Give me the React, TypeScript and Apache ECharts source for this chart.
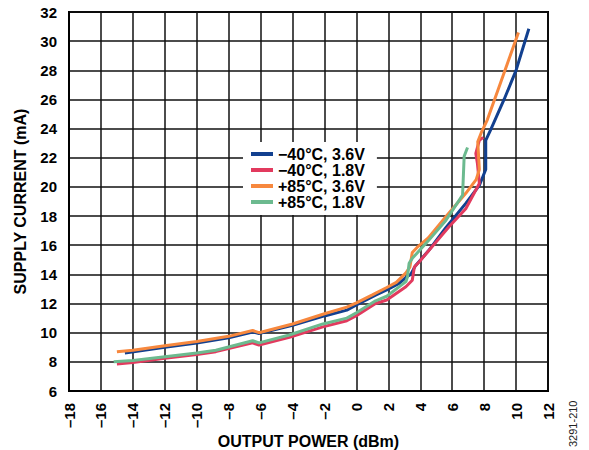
import React, { useEffect, useRef } from "react";
import * as echarts from "echarts";

const seriesNames = ["\u221240°C, 3.6V", "\u221240°C, 1.8V", "+85°C, 3.6V", "+85°C, 1.8V"];
const seriesColors = ["#12408f", "#e23a5e", "#f7883e", "#6cba8f"];

const blue40_36: [number, number][] = [
  [-14.5, 8.6], [-12, 9.0], [-10, 9.3], [-8, 9.65], [-6.5, 10.05], [-6.1, 9.95], [-4, 10.5],
  [-2, 11.15], [-0.6, 11.55], [0, 11.9], [1.2, 12.58], [1.9, 12.93], [2.7, 13.4], [3.1, 13.8],
  [3.4, 14.0], [3.7, 14.6], [4.5, 15.6], [5.6, 17.2], [6.85, 18.87], [7.7, 20.1], [8.1, 21.2],
  [8.1, 23.2], [8.4, 23.9], [9.25, 26.0], [10.0, 28.0], [10.8, 30.85],
];
const red40_18: [number, number][] = [
  [-15, 7.85], [-14, 7.95], [-12, 8.24], [-10, 8.5], [-8.8, 8.7], [-6.5, 9.3], [-6.1, 9.15],
  [-4.2, 9.68], [-2.1, 10.4], [-0.6, 10.82], [0, 11.16], [1.2, 12.0], [1.9, 12.24], [3.1, 13.15],
  [3.5, 13.6], [3.63, 14.5], [3.94, 14.87], [5.8, 17.27], [6.85, 18.5], [7.7, 20.24], [7.58, 21.6],
  [7.48, 22.3], [7.7, 23.2], [7.94, 23.4],
];
const orange85_36: [number, number][] = [
  [-15, 8.7], [-14, 8.8], [-12, 9.1], [-10, 9.4], [-8, 9.75], [-6.5, 10.15], [-6.1, 10.0],
  [-4, 10.6], [-2, 11.3], [-0.6, 11.75], [0, 12.05], [1, 12.6], [1.9, 13.1], [2.5, 13.45],
  [3.1, 14.1], [3.35, 14.5], [3.5, 15.5], [3.8, 15.85], [4.5, 16.5], [5.6, 17.96], [6.85, 19.56],
  [7.5, 20.5], [7.7, 21.2], [7.6, 23.1], [7.85, 23.8], [8.2, 24.6], [8.94, 26.87], [10.15, 30.6],
];
const green85_18: [number, number][] = [
  [-15.2, 8.0], [-14, 8.1], [-12, 8.35], [-10, 8.6], [-8.8, 8.8], [-6.5, 9.45], [-6.1, 9.3],
  [-4.2, 9.84], [-2.1, 10.6], [-0.6, 11.0], [0, 11.37], [1.2, 12.19], [1.9, 12.5], [3.1, 13.5],
  [3.2, 13.84], [3.3, 14.76], [3.5, 15.1], [4.5, 16.3], [5.6, 17.7], [6.65, 19.44], [6.75, 22.1],
  [6.96, 22.7],
];

const seriesData = [blue40_36, red40_18, orange85_36, green85_18];

const xTitle = "OUTPUT POWER (dBm)";
const yTitle = "SUPPLY CURRENT (mA)";
const figureId = "3291-210";

const FONT = "'Liberation Sans', Arial, Helvetica, sans-serif";

export default function App() {
  const ref = useRef<HTMLDivElement>(null);
  useEffect(() => {
    if (!ref.current) return;
    const chart = echarts.init(ref.current, undefined, { renderer: "svg" });
    chart.setOption({
      animation: false,
      backgroundColor: "#ffffff",
      textStyle: { fontFamily: FONT },
      grid: {
        left: 69,
        right: 41,
        top: 12,
        bottom: 59,
        outerBoundsMode: "none",
        containLabel: false,
        show: true,
        borderColor: "#000",
        borderWidth: 2,
      },
      legend: {
        orient: "vertical",
        left: 243,
        top: 142,
        backgroundColor: "#fff",
        padding: [4, 12, 5, 8],
        itemGap: 0,
        itemWidth: 22,
        itemHeight: 4,
        icon: "rect",
        textStyle: { fontFamily: FONT, fontWeight: "bold", fontSize: 16, lineHeight: 15, color: "#000" },
        data: seriesNames,
      },
      xAxis: {
        type: "value",
        min: -18,
        max: 12,
        interval: 2,
        name: xTitle,
        nameLocation: "middle",
        nameGap: 42,
        nameMoveOverlap: false,
        nameTextStyle: { fontFamily: FONT, fontWeight: "bold", fontSize: 16, lineHeight: 16, color: "#000" },
        axisLine: { show: true, onZero: false, lineStyle: { color: "#000", width: 2 } },
        axisTick: { show: false },
        splitLine: { show: true, lineStyle: { color: "#111", width: 1.5, type: "solid" } },
        axisLabel: {
          rotate: 90,
          margin: 12,
          fontFamily: FONT,
          fontWeight: "bold",
          fontSize: 15,
          color: "#000",
          formatter: (v: number) => String(v).replace("-", "\u2013"),
        },
      },
      yAxis: {
        type: "value",
        min: 6,
        max: 32,
        interval: 2,
        name: yTitle,
        nameLocation: "middle",
        nameGap: 41,
        nameMoveOverlap: false,
        nameTextStyle: { fontFamily: FONT, fontWeight: "bold", fontSize: 16, color: "#000" },
        axisLine: { show: true, onZero: false, lineStyle: { color: "#000", width: 2 } },
        axisTick: { show: false },
        splitLine: { show: true, lineStyle: { color: "#111", width: 1.5, type: "solid" } },
        axisLabel: {
          margin: 12,
          fontFamily: FONT,
          fontWeight: "bold",
          fontSize: 15,
          color: "#000",
        },
      },
      graphic: [
        {
          type: "text",
          x: 573,
          y: 447,
          rotation: Math.PI / 2,
          style: {
            text: figureId,
            fontFamily: FONT,
            fontSize: 11,
            fill: "#222",
            textAlign: "left",
            textVerticalAlign: "middle",
          },
        },
      ],
      series: seriesNames.map((name, i) => ({
        name,
        type: "line",
        data: seriesData[i],
        symbol: "none",
        smooth: false,
        color: seriesColors[i],
        lineStyle: { width: 3, color: seriesColors[i] },
        z: 3,
      })),
    });
    return () => chart.dispose();
  }, []);
  return <div ref={ref} style={{ position: "fixed", left: 0, top: 0, width: 589, height: 450 }} />;
}
